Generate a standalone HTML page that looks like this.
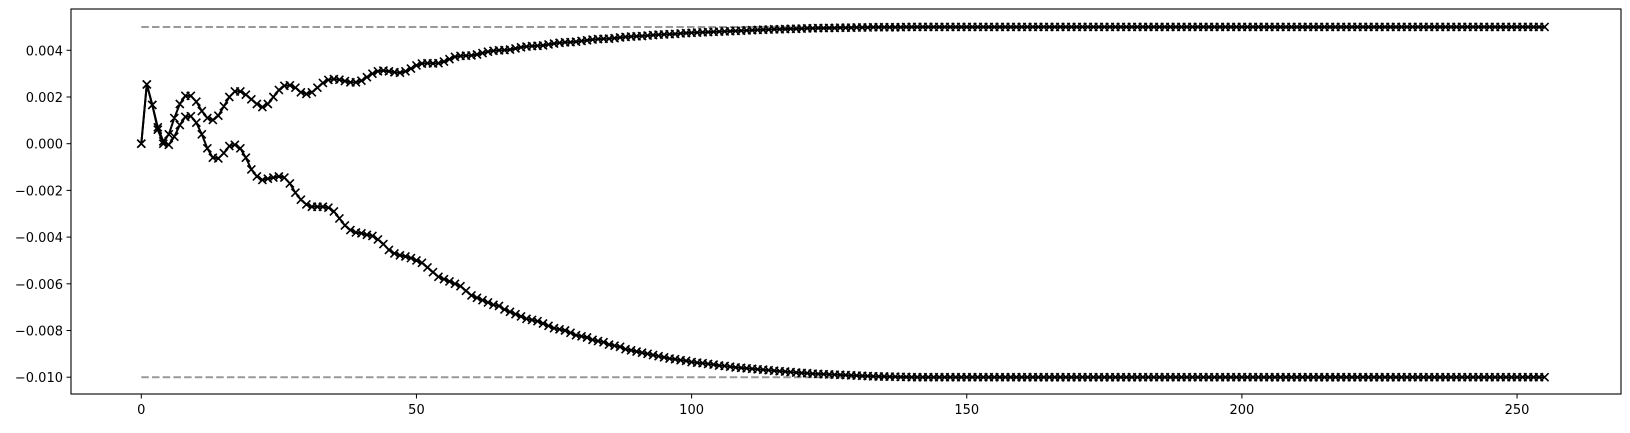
<!DOCTYPE html>
<html><head><meta charset="utf-8"><style>
html,body{margin:0;padding:0;background:#fff;}
svg text{font-family:"DejaVu Sans","Liberation Sans",sans-serif;font-size:13px;fill:#000;}
</style></head><body>
<svg id="chart" width="1630" height="428" xmlns="http://www.w3.org/2000/svg">
<rect x="0" y="0" width="1630" height="428" fill="#fff"/>
<g id="plot"></g>
<g id="axes"></g>
</svg>
<script>
const upper = [
0,0.00254,0.00166,0.0007,0.0001,0.0004,0.0011,0.0017,0.00205,0.00205,
0.0018,0.0014,0.0011,0.00102,0.0012,0.0016,0.002,0.00224,0.00224,0.0021,
0.0019,0.0017,0.00157,0.0017,0.002,0.0023,0.00248,0.0025,0.0024,0.0022,
0.00213,0.0022,0.0024,0.0026,0.00273,0.00277,0.00274,0.00268,0.00263,0.00263,
0.0027,0.00285,0.003,0.0031,0.00313,0.0031,0.00306,0.00304,0.0031,0.00322,
0.00335,0.00343,0.00345,0.00344,0.00345,0.00352,0.00362,0.00372,0.00376,0.00377,
0.00378,0.00382,0.00388,0.00394,0.00398,0.004,0.00401,0.00403,0.00408,0.00413,
0.00416,0.00418,0.00419,0.00421,0.00425,0.00429,0.00432,0.00434,0.00435,0.00437,
0.0044,0.00443,0.00446,0.00448,0.00449,0.0045,0.00452,0.00455,0.00457,0.00459,
0.0046,0.00461,0.00463,0.00465,0.00467,0.00468,0.00469,0.0047,0.00472,0.00474,
0.00475,0.00476,0.00477,0.00478,0.00479,0.0048,0.00481,0.00482,0.00483,0.00484,
0.00485,0.00486,0.00487,0.00488,0.00489,0.0049,0.0049,0.00491,0.00492,0.00492,
0.00493,0.00494,0.00494,0.00495,0.00495,0.00496,0.00496,0.00497,0.00497,0.00497,
0.00498,0.00498,0.00498,0.00499,0.00499,0.00499,0.00499,0.00499,0.00499,0.005,
0.005,0.005,0.005,0.005,0.005,0.005,0.005,0.005,0.005,0.005,
0.005,0.005,0.005,0.005,0.005,0.005,0.005,0.005,0.005,0.005,
0.005,0.005,0.005,0.005,0.005,0.005,0.005,0.005,0.005,0.005,
0.005,0.005,0.005,0.005,0.005,0.005,0.005,0.005,0.005,0.005,
0.005,0.005,0.005,0.005,0.005,0.005,0.005,0.005,0.005,0.005,
0.005,0.005,0.005,0.005,0.005,0.005,0.005,0.005,0.005,0.005,
0.005,0.005,0.005,0.005,0.005,0.005,0.005,0.005,0.005,0.005,
0.005,0.005,0.005,0.005,0.005,0.005,0.005,0.005,0.005,0.005,
0.005,0.005,0.005,0.005,0.005,0.005,0.005,0.005,0.005,0.005,
0.005,0.005,0.005,0.005,0.005,0.005,0.005,0.005,0.005,0.005,
0.005,0.005,0.005,0.005,0.005,0.005,0.005,0.005,0.005,0.005,
0.005,0.005,0.005,0.005,0.005,0.005
];
const lower = [
0,0.00254,0.00166,0.0006,0,-0.00005,0.0003,0.0008,0.00115,0.00118,
0.0009,0.0004,-0.0002,-0.0006,-0.00063,-0.0004,-0.0001,-0.00005,-0.0002,-0.0006,
-0.0011,-0.0014,-0.00155,-0.0015,-0.00145,-0.0014,-0.00145,-0.0017,-0.0021,-0.0024,
-0.0026,-0.0027,-0.0027,-0.0027,-0.00274,-0.0029,-0.0032,-0.0035,-0.0037,-0.0038,
-0.00384,-0.0039,-0.00395,-0.0041,-0.0043,-0.00455,-0.0047,-0.00478,-0.00483,-0.0049,
-0.005,-0.0051,-0.0053,-0.0055,-0.0057,-0.0058,-0.0059,-0.006,-0.0061,-0.0063,
-0.0065,-0.0066,-0.0067,-0.0068,-0.0069,-0.00695,-0.0071,-0.0072,-0.0073,-0.0074,
-0.0075,-0.00755,-0.0076,-0.0077,-0.0078,-0.0079,-0.00795,-0.008,-0.0081,-0.0082,
-0.00825,-0.0083,-0.0084,-0.00845,-0.0085,-0.0086,-0.00865,-0.0087,-0.0088,-0.00885,
-0.0089,-0.00895,-0.009,-0.00905,-0.0091,-0.00915,-0.0092,-0.00923,-0.00927,-0.0093,
-0.00935,-0.00938,-0.0094,-0.00943,-0.00946,-0.0095,-0.00952,-0.00955,-0.00958,-0.0096,
-0.00962,-0.00964,-0.00966,-0.00968,-0.0097,-0.00972,-0.00974,-0.00976,-0.00978,-0.0098,
-0.00982,-0.00983,-0.00985,-0.00986,-0.00987,-0.00988,-0.00989,-0.0099,-0.00991,-0.00992,
-0.00993,-0.00994,-0.00995,-0.00996,-0.00997,-0.00997,-0.00998,-0.00998,-0.00999,-0.00999,
-0.01,-0.01,-0.01,-0.01,-0.01,-0.01,-0.01,-0.01,-0.01,-0.01,
-0.01,-0.01,-0.01,-0.01,-0.01,-0.01,-0.01,-0.01,-0.01,-0.01,
-0.01,-0.01,-0.01,-0.01,-0.01,-0.01,-0.01,-0.01,-0.01,-0.01,
-0.01,-0.01,-0.01,-0.01,-0.01,-0.01,-0.01,-0.01,-0.01,-0.01,
-0.01,-0.01,-0.01,-0.01,-0.01,-0.01,-0.01,-0.01,-0.01,-0.01,
-0.01,-0.01,-0.01,-0.01,-0.01,-0.01,-0.01,-0.01,-0.01,-0.01,
-0.01,-0.01,-0.01,-0.01,-0.01,-0.01,-0.01,-0.01,-0.01,-0.01,
-0.01,-0.01,-0.01,-0.01,-0.01,-0.01,-0.01,-0.01,-0.01,-0.01,
-0.01,-0.01,-0.01,-0.01,-0.01,-0.01,-0.01,-0.01,-0.01,-0.01,
-0.01,-0.01,-0.01,-0.01,-0.01,-0.01,-0.01,-0.01,-0.01,-0.01,
-0.01,-0.01,-0.01,-0.01,-0.01,-0.01,-0.01,-0.01,-0.01,-0.01,
-0.01,-0.01,-0.01,-0.01,-0.01,-0.01
];
const refLevels = [0.005, -0.01];
const xTicks = [0, 50, 100, 150, 200, 250];
const yTicks = [0.004, 0.002, 0.000, -0.002, -0.004, -0.006, -0.008, -0.010];
const yTickLabels = ["0.004","0.002","0.000","\u22120.002","\u22120.004","\u22120.006","\u22120.008","\u22120.010"];

const NS = "http://www.w3.org/2000/svg";
const L = 71, R = 1621, T = 9, B = 394;
const xs = v => 141.3 + v * 5.503;
const ys = v => 143.7 - v * 23350;
const plot = document.getElementById('plot');
const axes = document.getElementById('axes');
function mk(tag, attrs, parent) {
  const e = document.createElementNS(NS, tag);
  for (const k in attrs) e.setAttribute(k, attrs[k]);
  parent.appendChild(e);
  return e;
}
refLevels.forEach((lv, k) => {
  const ln = mk('line', {x1: xs(0), x2: xs(upper.length - 1), y1: ys(lv), y2: ys(lv), stroke: '#999', 'stroke-width': 2, 'stroke-dasharray': '7.5,3.2'}, plot);
  
  
});
function series(data, name) {
  const g = mk('g', {}, plot);
  
  
  const pts = data.map((v, i) => xs(i).toFixed(2) + ',' + ys(v).toFixed(2)).join(' ');
  const pl = mk('polyline', {points: pts, fill: 'none', stroke: '#000', 'stroke-width': 2, 'stroke-linejoin': 'round'}, g);
  
  
  let d = '';
  const s = 4;
  data.forEach((v, i) => {
    const x = xs(i), y = ys(v);
    d += `M${(x-s).toFixed(2)},${(y-s).toFixed(2)}L${(x+s).toFixed(2)},${(y+s).toFixed(2)}M${(x-s).toFixed(2)},${(y+s).toFixed(2)}L${(x+s).toFixed(2)},${(y-s).toFixed(2)}`;
  });
  const mp = mk('path', {d: d, stroke: '#000', 'stroke-width': 1.6, fill: 'none'}, g);
  
  
}
series(lower, 'lower');
series(upper, 'upper');
const fr = mk('rect', {x: L, y: T, width: R - L, height: B - T, fill: 'none', stroke: '#000', 'stroke-width': 1.1}, axes);


xTicks.forEach(t => {
  const x = xs(t);
  const tk = mk('line', {x1: x, x2: x, y1: B, y2: B + 4.5, stroke: '#000', 'stroke-width': 1}, axes);
  
  
  const tx = mk('text', {x: x, y: B + 20, 'text-anchor': 'middle'}, axes);
  tx.textContent = String(t);
  
  
});
yTicks.forEach((t, i) => {
  const y = ys(t);
  const tk = mk('line', {x1: L - 4.5, x2: L, y1: y, y2: y, stroke: '#000', 'stroke-width': 1}, axes);
  
  
  const tx = mk('text', {x: L - 8, y: y + 5, 'text-anchor': 'end'}, axes);
  tx.textContent = yTickLabels[i];
  
  
});
</script>
</body></html>
